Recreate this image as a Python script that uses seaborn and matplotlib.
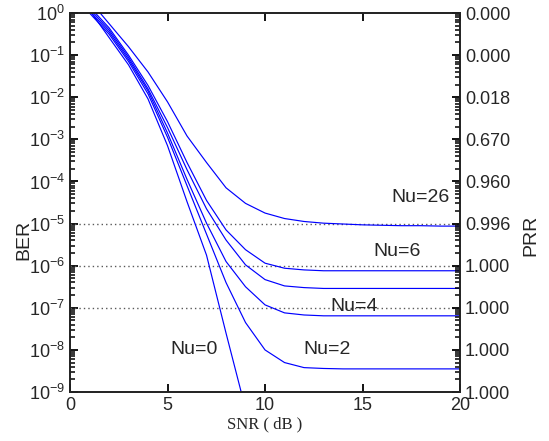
import numpy as np
import pandas as pd
import matplotlib
matplotlib.use("Agg")
import matplotlib.pyplot as plt
from matplotlib.ticker import FixedLocator, NullFormatter
import seaborn as sns

# SNR grid (dB)
snr = list(range(0, 21))

# log10(BER) for each number of interferers
ber_exp_nu0 = [0.70, 0.07, -0.58, -1.23, -2.04, -3.15, -4.48, -5.75, -7.60, -9.40, -11.3]
ber_exp_nu2 = [0.72, 0.00, -0.50, -1.15, -1.92, -2.95, -4.10, -5.25, -6.40, -7.35, -8.00,
               -8.30, -8.42, -8.44, -8.45, -8.45, -8.45, -8.45, -8.45, -8.45, -8.45]
ber_exp_nu4 = [0.75, 0.05, -0.45, -1.10, -1.85, -2.85, -3.95, -4.99, -5.90, -6.50, -6.93,
               -7.12, -7.17, -7.19, -7.19, -7.19, -7.19, -7.19, -7.19, -7.19, -7.19]
ber_exp_mid = [0.78, 0.10, -0.40, -1.05, -1.80, -2.72, -3.72, -4.65, -5.39, -5.98, -6.33,
               -6.48, -6.52, -6.54, -6.54, -6.54, -6.54, -6.54, -6.54, -6.54, -6.54]
ber_exp_nu6 = [0.80, 0.15, -0.35, -1.00, -1.72, -2.58, -3.55, -4.45, -5.15, -5.62, -5.94,
               -6.06, -6.10, -6.12, -6.12, -6.12, -6.12, -6.12, -6.12, -6.12, -6.12]
ber_exp_nu26 = [0.85, 0.30, -0.25, -0.80, -1.40, -2.11, -2.92, -3.55, -4.15, -4.52, -4.75,
                -4.88, -4.95, -4.99, -5.01, -5.03, -5.04, -5.05, -5.05, -5.06, -5.06]

# reference BER levels (dotted)
ref_levels = [1e-5, 1e-6, 1e-7]

# right-axis packet reception rate labels, one per decade (10^0 ... 10^-9)
prr_labels = ["0.000", "0.000", "0.018", "0.670", "0.960", "0.996",
              "1.000", "1.000", "1.000", "1.000"]

# curve annotations: text, SNR, log10(BER)
notes = [("Nu=26", 17.95, -4.39), ("Nu=6", 16.77, -5.67),
         ("Nu=4", 14.56, -6.98), ("Nu=2", 13.2, -8.0),
         ("Nu=0", 6.36, -8.0)]

curves = {"nu0": ber_exp_nu0, "nu2": ber_exp_nu2, "nu4": ber_exp_nu4,
          "mid": ber_exp_mid, "nu6": ber_exp_nu6, "nu26": ber_exp_nu26}
rows = []
for name, exps in curves.items():
    for s, e in zip(snr, exps):
        rows.append({"snr": s, "ber": 10.0 ** e, "curve": name})
df = pd.DataFrame(rows)

sns.set_style("ticks")
plt.rcParams["font.family"] = ["Liberation Sans", "DejaVu Sans"]
plt.rcParams["mathtext.fontset"] = "custom"
plt.rcParams["mathtext.rm"] = "Liberation Sans"
plt.rcParams["mathtext.it"] = "Liberation Sans:italic"

decades = [10.0 ** -k for k in range(0, 10)]
minor_locs = [m * 10.0 ** -k for k in range(1, 10) for m in range(2, 10)]

fig = plt.figure(figsize=(5.49, 4.41), dpi=100)
ax = fig.add_axes([0.1275, 0.111, 0.7105, 0.8595])

ax.set_yscale("log")
for lvl in ref_levels:
    ax.plot([0, 20], [lvl, lvl], color="0.35", linestyle=(0, (1, 2.2)), linewidth=1.0)

sns.lineplot(data=df, x="snr", y="ber", hue="curve",
             palette=["#0000ff"] * len(curves), linewidth=0.85,
             legend=False, ax=ax, estimator=None, sort=False)

ax.set_xlim(0, 20)
ax.set_ylim(1e-9, 1e0)
ax.set_xticks([0, 5, 10, 15, 20])
ax.set_yticks(decades)
ax.yaxis.set_minor_locator(FixedLocator(minor_locs))
ax.yaxis.set_minor_formatter(NullFormatter())
ax.set_xlabel("SNR ( dB )", fontsize=12, family=["Liberation Serif", "DejaVu Serif"],
              labelpad=2)
ax.set_ylabel("BER", fontsize=14)
ax.yaxis.set_label_coords(-0.097, 0.40)
for sp in ax.spines.values():
    sp.set_linewidth(1.2)
    sp.set_color("black")

for txt, x, y in notes:
    ax.text(x, 10.0 ** y, txt, fontsize=14, ha="center", va="center")

ax2 = ax.twinx()
ax2.set_yscale("log")
ax2.set_ylim(1e-9, 1e0)
ax2.set_yticks(decades)
ax2.set_yticklabels(prr_labels)
ax2.yaxis.set_minor_locator(FixedLocator(minor_locs))
ax2.yaxis.set_minor_formatter(NullFormatter())
ax2.set_ylabel("PRR", fontsize=14)
ax2.yaxis.set_label_coords(1.159, 0.414)
for sp in ax2.spines.values():
    sp.set_linewidth(1.2)

# inward MATLAB-like ticks, set after the twin axis is attached
ax.tick_params(axis="x", which="major", direction="in", length=6, width=1.3,
               color="black", labelsize=13, bottom=True, top=True)
ax.tick_params(axis="x", which="minor", bottom=False, top=False)
ax.tick_params(axis="y", which="major", direction="in", length=6, width=1.3,
               color="black", labelsize=13, left=True, right=False)
ax.tick_params(axis="y", which="minor", direction="in", length=3.5, width=1.1,
               color="black", left=True, right=False)
ax2.tick_params(axis="y", which="major", direction="in", length=6, width=1.3,
                color="black", labelsize=13, right=True, left=False)
ax2.tick_params(axis="y", which="minor", direction="in", length=3.5, width=1.1,
                color="black", right=True, left=False)

fig.savefig("out.png", dpi=100)
